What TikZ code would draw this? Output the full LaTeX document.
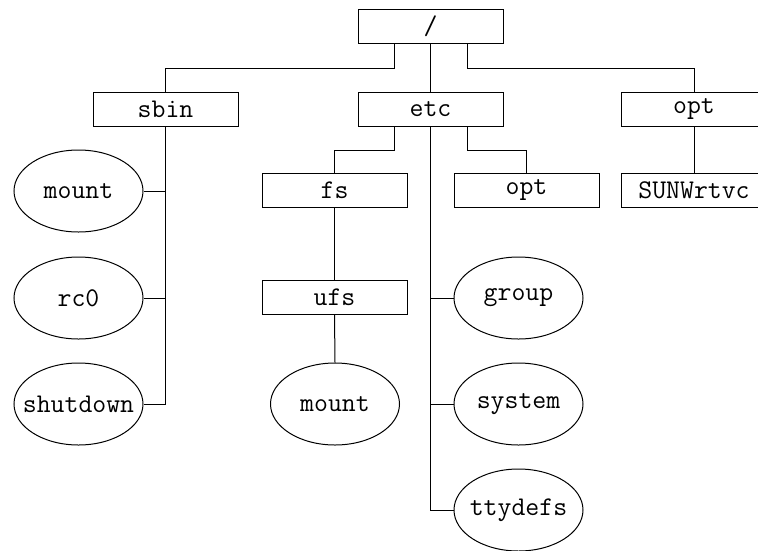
\documentclass[tikz,border=0pt]{standalone}
\usepackage{fontspec}
\usetikzlibrary{shapes.geometric}
\newcommand{\fixw}[1]{\makebox[0pt]{#1}}
\begin{document}
\begin{tikzpicture}[x=1pt,y=-1pt,
  every node/.style={font=\ttfamily\fontsize{27}{30}\selectfont},
  dirbox/.style={draw,line width=1pt,rectangle,minimum width=145pt,minimum height=34pt,inner sep=0pt},
  filebox/.style={draw,line width=1pt,ellipse,minimum width=129pt,minimum height=82pt,inner sep=0pt},
  conn/.style={draw,line width=1pt}]
\useasboundingbox (0,0) rectangle (758,550);
\clip (0,0) rectangle (758,550);
% directories
\node[dirbox] (root) at (430.5,26) {/};
\node[dirbox] (sbin) at (165.5,109) {sbin};
\node[dirbox] (etc) at (430.5,109) {etc};
\node[dirbox] (opt) at (694,109) {opt};
\node[dirbox] (fs) at (334.5,190) {fs};
\node[dirbox] (etcopt) at (526.5,190) {opt};
\node[dirbox] (sunw) at (694,190) {SUNWrtvc};
\node[dirbox] (ufs) at (334.5,297.5) {ufs};
% files
\node[filebox] (smount) at (78.5,191) {\fixw{mount}};
\node[filebox] (rczero) at (78.5,298) {\fixw{rc0}};
\node[filebox] (shutdown) at (78.5,404) {\fixw{shutdown}};
\node[filebox] (umount) at (335,404) {\fixw{mount}};
\node[filebox] (group) at (518.5,298) {\fixw{group}};
\node[filebox] (system) at (518.5,404) {\fixw{system}};
\node[filebox] (ttydefs) at (518.5,510) {\fixw{ttydefs}};
% connectors from root
\draw[conn] ([xshift=-36.5pt]root.south) -- ++(0,25) -| (sbin.north);
\draw[conn] (root.south) -- (etc.north);
\draw[conn] ([xshift=36.5pt]root.south) -- ++(0,25) -| (opt.north);
% sbin
\draw[conn] (sbin.south) |- (shutdown.east);
\draw[conn] (sbin.south |- smount.east) -- (smount.east);
\draw[conn] (sbin.south |- rczero.east) -- (rczero.east);
% etc
\draw[conn] ([xshift=-36.5pt]etc.south) -- ++(0,24) -| (fs.north);
\draw[conn] ([xshift=36.5pt]etc.south) -- ++(0,24) -| (etcopt.north);
\draw[conn] (etc.south) |- (ttydefs.west);
\draw[conn] (etc.south |- group.west) -- (group.west);
\draw[conn] (etc.south |- system.west) -- (system.west);
% fs
\draw[conn] (fs.south) -- (ufs.north);
\draw[conn] (ufs.south) -- (umount.north);
% opt
\draw[conn] (opt.south) -- (sunw.north);
\end{tikzpicture}
\end{document}
